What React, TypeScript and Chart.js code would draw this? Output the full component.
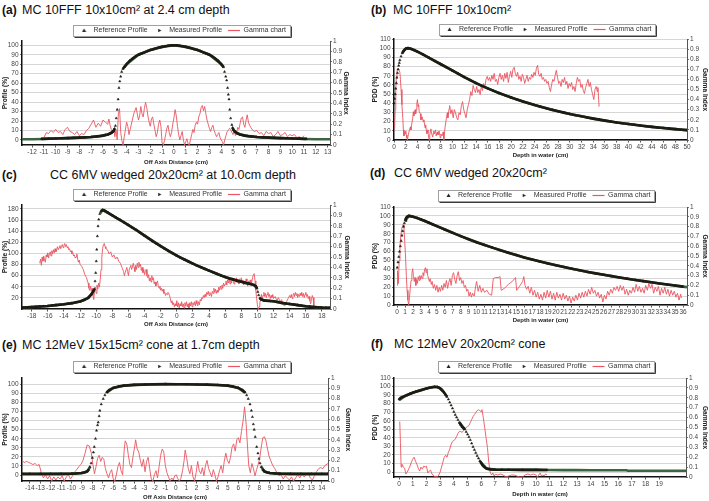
import React, { useEffect, useRef } from 'react';
import { Chart, registerables } from 'chart.js';

Chart.register(...registerables);

type P = [number, number][];

// ---------------- Panel (a) ----------------
const refProfileA: P = [[-11.2,1.2],[-10.6,1.4],[-10,1.6],[-9.5,1.8],[-9,2.0],[-8.5,2.2],[-8,2.5],[-7.5,2.8],[-7,3.2],[-6.5,3.8],[-6.2,4.2],[-6,4.6],[-5.8,5.2],[-5.6,5.8],[-5.45,6.6],[-5.3,7.5],[-5.2,8.5],[-5.1,9.5],[-5.02,12],[-4.95,15],[-4.88,23],[-4.8,32],[-4.72,43],[-4.65,55],[-4.58,62],[-4.5,67],[-4.42,72],[-4.32,75],[-4.2,77],[-4.0,80],[-3.75,83.5],[-3.5,86],[-3.25,88.2],[-3.0,90],[-2.75,91.3],[-2.5,92.5],[-2.25,93.8],[-2.0,95],[-1.75,95.9],[-1.5,96.8],[-1.25,97.6],[-1.0,98.3],[-0.75,99],[-0.5,99.5],[-0.25,99.9],[0,100],[0.25,99.9],[0.5,99.5],[0.75,99],[1.0,98.3],[1.25,97.6],[1.5,96.8],[1.75,95.9],[2.0,95],[2.25,93.8],[2.5,92.5],[2.75,91.3],[3.0,90],[3.25,88.2],[3.5,86],[3.75,83.5],[4.0,80],[4.2,77],[4.28,72],[4.38,67],[4.46,63],[4.54,55],[4.6,48],[4.66,43],[4.72,32],[4.8,23],[4.9,16],[4.96,13],[5.05,10.5],[5.15,9],[5.25,8],[5.4,6.8],[5.6,5.8],[5.8,5.2],[6,4.6],[6.2,4.2],[6.5,3.8],[7,3.2],[7.5,2.8],[8,2.5],[8.5,2.2],[9,2.0],[9.5,1.8],[10,1.6],[10.6,1.4],[11.2,1.2]];
const measProfileA: P = [[-12.9,0.7],[-12,0.8],[-11,1.1],[-10,1.5],[-9,2],[-8,2.5],[-7,3.2],[-6.5,3.8],[-6,4.6],[-5.6,5.8],[-5.3,7.5],[-5.1,9.5],[-4.9,16],[-4.7,43],[-4.5,67],[-4.2,77],[-4,80],[-3,90],[-2,95],[-1,98.3],[0,100],[1,98.3],[2,95],[3,90],[4,80],[4.2,77],[4.45,63],[4.7,32],[4.95,13],[5.1,9.5],[5.3,7.5],[5.6,5.8],[6,4.6],[6.5,3.8],[7,3.2],[8,2.5],[9,2],[10,1.5],[11,1.1],[12,0.8],[13.2,0.7]];
const gammaA: P = [[-11.0,0.07],[-10.8,0.12],[-10.6,0.11],[-10.4,0.14],[-10.2,0.12],[-10.0,0.15],[-9.8,0.12],[-9.6,0.13],[-9.4,0.1],[-9.2,0.15],[-9.0,0.17],[-8.8,0.13],[-8.6,0.12],[-8.4,0.1],[-8.2,0.13],[-8.0,0.09],[-7.8,0.11],[-7.6,0.1],[-7.4,0.14],[-7.2,0.16],[-7.0,0.2],[-6.8,0.24],[-6.6,0.17],[-6.4,0.21],[-6.2,0.18],[-6.0,0.24],[-5.8,0.22],[-5.6,0.2],[-5.5,0.25],[-5.4,0.19],[-5.3,0.15],[-5.2,0.12],[-5.1,0.16],[-5.0,0.08],[-4.9,0.15],[-4.8,0.05],[-4.7,0.3],[-4.6,0.35],[-4.5,0.12],[-4.4,0.04],[-4.3,0.0],[-4.2,0.08],[-4.0,0.22],[-3.9,0.18],[-3.8,0.1],[-3.6,0.2],[-3.4,0.3],[-3.2,0.36],[-3.0,0.24],[-2.9,0.28],[-2.8,0.37],[-2.7,0.3],[-2.6,0.27],[-2.5,0.35],[-2.4,0.41],[-2.3,0.36],[-2.2,0.28],[-2.1,0.22],[-2.0,0.18],[-1.9,0.25],[-1.8,0.27],[-1.7,0.2],[-1.6,0.14],[-1.5,0.08],[-1.4,0.12],[-1.3,0.2],[-1.2,0.24],[-1.1,0.18],[-1.0,0.02],[-0.9,0.0],[-0.8,0.04],[-0.7,0.1],[-0.6,0.16],[-0.5,0.19],[-0.4,0.12],[-0.3,0.08],[-0.2,0.12],[-0.1,0.2],[0.0,0.26],[0.1,0.34],[0.2,0.28],[0.3,0.18],[0.4,0.1],[0.5,0.05],[0.6,0.09],[0.7,0.13],[0.8,0.05],[0.9,0.0],[1.0,0.03],[1.1,0.06],[1.2,0.01],[1.3,0.0],[1.4,0.05],[1.5,0.1],[1.6,0.15],[1.7,0.12],[1.8,0.19],[1.9,0.22],[2.0,0.2],[2.1,0.27],[2.2,0.3],[2.3,0.36],[2.4,0.38],[2.5,0.33],[2.6,0.37],[2.7,0.3],[2.8,0.24],[2.9,0.2],[3.0,0.16],[3.1,0.13],[3.2,0.17],[3.3,0.19],[3.4,0.14],[3.5,0.11],[3.6,0.08],[3.7,0.1],[3.8,0.12],[3.9,0.07],[4.0,0.05],[4.1,0.03],[4.2,0.0],[4.3,0.05],[4.4,0.09],[4.5,0.13],[4.6,0.14],[4.7,0.16],[4.8,0.15],[4.9,0.12],[5.0,0.1],[5.1,0.14],[5.2,0.09],[5.3,0.12],[5.4,0.17],[5.5,0.15],[5.6,0.21],[5.7,0.26],[5.8,0.27],[5.9,0.2],[6.0,0.17],[6.1,0.24],[6.2,0.29],[6.3,0.22],[6.4,0.19],[6.5,0.17],[6.6,0.15],[6.8,0.13],[7.0,0.14],[7.2,0.11],[7.4,0.12],[7.6,0.09],[7.8,0.13],[8.0,0.11],[8.2,0.12],[8.4,0.08],[8.6,0.1],[8.8,0.13],[9.0,0.09],[9.2,0.1],[9.4,0.12],[9.6,0.08],[9.8,0.1],[10.0,0.09],[10.2,0.1],[10.4,0.07],[10.6,0.08],[10.8,0.06],[11.0,0.09]];

// ---------------- Panel (b) ----------------
const refPddB: P = [[0,40],[0.1,45],[0.2,50],[0.3,56],[0.4,62],[0.5,68],[0.6,73],[0.7,77],[0.8,81],[0.9,84],[1.0,87],[1.2,91],[1.4,94.5],[1.6,96.8],[1.8,98.5],[2.0,99.5],[2.3,100],[2.6,99.8],[3,99],[3.5,97.8],[4,96.3],[5,93],[6,89.5],[7,86],[8,82.5],[9,79],[10,75.5],[11,72],[12,68.5],[13,65.3],[14,62],[15,59],[16,56.2],[17,53.5],[18,51],[19,48.6],[20,46.3],[21,44],[22,42],[23,40],[24,38],[25,36.2],[26,34.5],[27,32.8],[28,31.3],[29,29.8],[30,28.4],[31,27],[32,25.8],[33,24.5],[34,23.3],[35,22.2],[36,21.1],[37,20.1],[38,19.1],[39,18.2],[40,17.4],[41,16.6],[42,15.8],[43,15],[44,14.3],[45,13.6],[46,13],[47,12.4],[48,11.8],[49,11.2],[50,10.7]];
const measPddB: P = [[0,40],[0.5,68],[1,87],[1.5,95.5],[2,99.5],[2.5,100],[3,99],[4,96.3],[5,93],[6,89.5],[8,82.5],[10,75.5],[12,68.5],[14,62],[16,56.2],[18,51],[20,46.3],[22,42],[24,38],[26,34.5],[28,31.3],[30,28.4],[32,25.8],[34,23.3],[36,21.1],[38,19.1],[40,17.4],[42,15.8],[44,14.3],[46,13],[48,11.8],[50,10.7]];
const gammaB: P = [[0.1,0.1],[0.2,0.3],[0.3,0.5],[0.4,0.62],[0.5,0.68],[0.6,0.7],[0.8,0.7],[1.0,0.67],[1.1,0.6],[1.2,0.5],[1.35,0.35],[1.5,0.22],[1.6,0.1],[1.7,0.04],[1.8,0.08],[1.9,0.06],[2.0,0.09],[2.1,0.05],[2.2,0.02],[2.3,0.0],[2.4,0.04],[2.6,0.09],[2.8,0.13],[2.9,0.1],[3.0,0.15],[3.2,0.22],[3.3,0.28],[3.4,0.24],[3.6,0.3],[3.7,0.26],[3.8,0.3],[3.9,0.36],[4.0,0.4],[4.1,0.33],[4.2,0.35],[4.3,0.28],[4.5,0.26],[4.6,0.2],[4.8,0.23],[5.0,0.18],[5.1,0.2],[5.3,0.12],[5.4,0.15],[5.6,0.06],[5.7,0.1],[5.8,0.07],[6.0,0.0],[6.1,0.05],[6.3,0.11],[6.4,0.07],[6.6,0.03],[6.8,0.09],[6.9,0.06],[7.1,0.1],[7.2,0.04],[7.4,0.08],[7.5,0.05],[7.7,0.09],[7.9,0.02],[8.0,0.06],[8.2,0.04],[8.4,0.08],[8.5,0.0],[8.7,0.12],[8.9,0.2],[9.1,0.27],[9.2,0.22],[9.4,0.31],[9.5,0.34],[9.7,0.26],[9.9,0.3],[10.1,0.22],[10.3,0.3],[10.5,0.27],[10.7,0.22],[10.9,0.2],[11.1,0.27],[11.3,0.25],[11.5,0.34],[11.7,0.38],[11.9,0.3],[12.1,0.26],[12.3,0.22],[12.5,0.3],[12.7,0.35],[12.9,0.4],[13.1,0.48],[13.3,0.44],[13.5,0.54],[13.7,0.5],[13.9,0.47],[14.1,0.53],[14.3,0.47],[14.5,0.5],[14.7,0.45],[14.9,0.53],[15.1,0.49],[15.3,0.56],[15.5,0.52],[15.7,0.6],[15.9,0.63],[16.1,0.59],[16.3,0.62],[16.5,0.58],[16.7,0.64],[16.9,0.6],[17.1,0.66],[17.3,0.58],[17.5,0.6],[17.7,0.55],[17.9,0.62],[18.1,0.66],[18.3,0.6],[18.5,0.64],[18.7,0.58],[18.9,0.66],[19.1,0.61],[19.3,0.67],[19.5,0.57],[19.7,0.63],[19.9,0.68],[20.1,0.62],[20.3,0.7],[20.5,0.72],[20.7,0.66],[20.9,0.63],[21.1,0.67],[21.3,0.6],[21.5,0.63],[21.7,0.58],[21.9,0.65],[22.1,0.62],[22.3,0.56],[22.5,0.6],[22.7,0.64],[22.9,0.58],[23.1,0.62],[23.3,0.6],[23.5,0.65],[23.7,0.62],[23.9,0.67],[24.1,0.64],[24.3,0.71],[24.5,0.74],[24.7,0.65],[24.9,0.63],[25.1,0.66],[25.3,0.6],[25.5,0.62],[25.7,0.58],[25.9,0.6],[26.1,0.56],[26.3,0.58],[26.5,0.52],[26.7,0.48],[26.9,0.55],[27.1,0.6],[27.3,0.58],[27.5,0.64],[27.7,0.69],[27.9,0.62],[28.1,0.56],[28.3,0.58],[28.5,0.53],[28.7,0.6],[28.9,0.57],[29.1,0.62],[29.3,0.55],[29.5,0.58],[29.7,0.51],[29.9,0.56],[30.1,0.53],[30.3,0.57],[30.5,0.5],[30.7,0.53],[30.9,0.48],[31.1,0.56],[31.3,0.62],[31.5,0.58],[31.7,0.6],[31.9,0.52],[32.1,0.55],[32.3,0.49],[32.5,0.46],[32.7,0.52],[32.9,0.56],[33.1,0.6],[33.3,0.53],[33.5,0.57],[33.7,0.5],[33.9,0.45],[34.1,0.4],[34.3,0.5],[34.5,0.53],[34.7,0.48],[34.8,0.52],[35.0,0.33]];

// ---------------- Panel (c) ----------------
const refProfileC: P = [[-19.2,2.5],[-18.5,3],[-18,3.5],[-17.5,4],[-17,4.5],[-16.5,5],[-16,5.5],[-15.5,6.2],[-15,7],[-14.5,7.7],[-14,8.5],[-13.5,9.5],[-13,10.5],[-12.5,12],[-12,13.5],[-11.5,16],[-11,20],[-10.8,23],[-10.6,26.5],[-10.45,30],[-10.32,33],[-10.22,36],[-10.14,50],[-10.06,65],[-9.99,86],[-9.93,107],[-9.85,131],[-9.77,149],[-9.68,161],[-9.55,171],[-9.4,176],[-9.2,178],[-9,177.5],[-8.5,173],[-8,168.5],[-7.5,164],[-7,160],[-6.5,155.5],[-6,151],[-5.5,146.5],[-5,142],[-4.5,137],[-4,132],[-3.5,127],[-3,122],[-2.5,117.5],[-2,113],[-1.5,108.5],[-1,104],[-0.5,100],[0,96],[0.5,92],[1,88.5],[1.5,85],[2,81.5],[2.5,78],[3,75],[3.5,72],[4,69],[4.5,66],[5,63],[5.5,60],[6,57.5],[6.5,55],[7,53],[7.5,51],[8,49],[8.5,47],[9,45.5],[9.3,44.5],[9.6,43],[9.8,41],[9.95,37],[10.05,31],[10.15,25],[10.3,19.5],[10.5,17],[10.8,15.5],[11,15],[11.5,14.5],[12,14],[12.5,12.5],[13,11],[13.5,10],[14,9],[14.5,8],[15,7],[15.5,6],[16,5],[16.5,4.3],[17,3.6],[17.5,3],[18,2.5],[18.5,2.2],[19,2]];
const measProfileC: P = [[-19.2,2.5],[-18,3.5],[-17,4.5],[-16,5.5],[-15,7],[-14,8.5],[-13,10.5],[-12,13.5],[-11,20],[-10.5,28],[-10.22,36],[-9.9,100],[-9.5,172],[-9.2,178],[-8,168.5],[-6,151],[-4,132],[-2,113],[0,96],[2,81.5],[4,69],[6,57.5],[8,49],[9.6,43],[9.95,37],[10.3,19.5],[10.8,15.5],[12,14],[13,11],[14,9],[15,7],[16,5],[17,3.6],[18,2.5],[19,2]];
const gammaC: P = [[-17,0.44],[-16.9,0.48],[-16.8,0.42],[-16.7,0.5],[-16.6,0.46],[-16.5,0.51],[-16.4,0.47],[-16.3,0.45],[-16.2,0.52],[-16.1,0.5],[-16,0.54],[-15.9,0.49],[-15.8,0.53],[-15.7,0.55],[-15.6,0.51],[-15.5,0.56],[-15.4,0.53],[-15.3,0.57],[-15.2,0.54],[-15.1,0.58],[-15,0.55],[-14.9,0.57],[-14.8,0.6],[-14.7,0.57],[-14.6,0.59],[-14.5,0.61],[-14.4,0.58],[-14.3,0.6],[-14.2,0.62],[-14.1,0.59],[-14,0.61],[-13.9,0.63],[-13.8,0.6],[-13.7,0.62],[-13.6,0.59],[-13.5,0.6],[-13.4,0.57],[-13.3,0.58],[-13.2,0.55],[-13.1,0.56],[-13,0.53],[-12.9,0.54],[-12.8,0.51],[-12.7,0.52],[-12.6,0.49],[-12.5,0.5],[-12.4,0.53],[-12.3,0.48],[-12.2,0.45],[-12.1,0.47],[-12,0.43],[-11.8,0.41],[-11.6,0.38],[-11.4,0.33],[-11.2,0.3],[-11,0.25],[-10.9,0.2],[-10.8,0.18],[-10.7,0.22],[-10.6,0.17],[-10.5,0.2],[-10.4,0.13],[-10.3,0.09],[-10.2,0.18],[-10.1,0.21],[-10,0.15],[-9.9,0.23],[-9.8,0.19],[-9.7,0.25],[-9.6,0.21],[-9.5,0.28],[-9.4,0.38],[-9.3,0.5],[-9.2,0.58],[-9.1,0.62],[-9,0.63],[-8.9,0.6],[-8.8,0.58],[-8.6,0.57],[-8.4,0.53],[-8.2,0.55],[-8,0.5],[-7.8,0.52],[-7.6,0.48],[-7.4,0.5],[-7.2,0.46],[-7,0.44],[-6.8,0.4],[-6.6,0.36],[-6.5,0.32],[-6.4,0.35],[-6.2,0.4],[-6.1,0.36],[-6,0.32],[-5.9,0.38],[-5.7,0.42],[-5.6,0.38],[-5.4,0.44],[-5.3,0.4],[-5.2,0.36],[-5.1,0.42],[-5,0.38],[-4.9,0.44],[-4.8,0.4],[-4.7,0.45],[-4.6,0.41],[-4.5,0.43],[-4.4,0.37],[-4.3,0.4],[-4.2,0.35],[-4.1,0.38],[-4,0.33],[-3.9,0.36],[-3.8,0.38],[-3.7,0.32],[-3.6,0.3],[-3.5,0.33],[-3.4,0.27],[-3.3,0.3],[-3.2,0.26],[-3.1,0.32],[-3,0.28],[-2.9,0.3],[-2.8,0.24],[-2.7,0.26],[-2.6,0.22],[-2.5,0.25],[-2.4,0.27],[-2.3,0.22],[-2.2,0.2],[-2.1,0.22],[-2,0.18],[-1.9,0.2],[-1.8,0.17],[-1.7,0.19],[-1.6,0.15],[-1.5,0.16],[-1.4,0.13],[-1.3,0.15],[-1.2,0.14],[-1.1,0.16],[-1,0.15],[-0.9,0.13],[-0.8,0.1],[-0.7,0.06],[-0.6,0.08],[-0.5,0.04],[-0.4,0.06],[-0.3,0.02],[-0.2,0.05],[-0.1,0.03],[0,0.08],[0.1,0.02],[0.2,0.06],[0.3,0.01],[0.4,0.05],[0.5,0.03],[0.6,0.07],[0.7,0.02],[0.8,0.05],[0.9,0.01],[1,0.06],[1.1,0.03],[1.2,0.07],[1.3,0.02],[1.4,0.05],[1.5,0.01],[1.6,0.06],[1.7,0.03],[1.8,0.07],[1.9,0.02],[2,0.06],[2.1,0.04],[2.2,0.07],[2.3,0.03],[2.4,0.08],[2.5,0.05],[2.6,0.03],[2.7,0.07],[2.8,0.04],[2.9,0.09],[3,0.08],[3.1,0.11],[3.2,0.1],[3.3,0.13],[3.4,0.11],[3.5,0.14],[3.6,0.12],[3.7,0.16],[3.8,0.14],[3.9,0.17],[4,0.13],[4.1,0.16],[4.2,0.15],[4.3,0.12],[4.4,0.17],[4.5,0.15],[4.6,0.2],[4.7,0.16],[4.8,0.19],[4.9,0.15],[5,0.18],[5.1,0.16],[5.2,0.21],[5.3,0.18],[5.4,0.22],[5.5,0.19],[5.6,0.23],[5.7,0.2],[5.8,0.25],[5.9,0.22],[6,0.24],[6.1,0.27],[6.2,0.23],[6.3,0.28],[6.4,0.25],[6.5,0.29],[6.6,0.24],[6.7,0.28],[6.8,0.25],[6.9,0.3],[7,0.27],[7.1,0.24],[7.2,0.29],[7.3,0.26],[7.4,0.3],[7.5,0.25],[7.6,0.28],[7.7,0.24],[7.8,0.29],[7.9,0.26],[8,0.3],[8.1,0.25],[8.2,0.28],[8.3,0.23],[8.4,0.27],[8.5,0.24],[8.6,0.29],[8.7,0.25],[8.8,0.22],[8.9,0.27],[9,0.24],[9.1,0.28],[9.2,0.23],[9.3,0.26],[9.4,0.3],[9.5,0.33],[9.6,0.34],[9.7,0.27],[9.8,0.18],[9.9,0.1],[10,0.04],[10.1,0.0],[10.2,0.02],[10.3,0.06],[10.4,0.1],[10.5,0.14],[10.6,0.1],[10.7,0.13],[10.8,0.16],[10.9,0.12],[11,0.15],[11.1,0.11],[11.2,0.14],[11.3,0.16],[11.4,0.12],[11.5,0.14],[11.6,0.1],[11.7,0.13],[11.8,0.11],[11.9,0.14],[12,0.1],[12.2,0.12],[12.4,0.08],[12.6,0.11],[12.8,0.07],[13,0.09],[13.2,0.04],[13.4,0.03],[13.6,0.07],[13.8,0.1],[14,0.13],[14.1,0.11],[14.2,0.14],[14.3,0.1],[14.4,0.13],[14.5,0.15],[14.6,0.12],[14.7,0.16],[14.8,0.13],[14.9,0.15],[15,0.11],[15.1,0.14],[15.2,0.12],[15.3,0.15],[15.4,0.13],[15.5,0.16],[15.6,0.12],[15.7,0.15],[15.8,0.11],[15.9,0.14],[16,0.16],[16.1,0.12],[16.2,0.14],[16.3,0.1],[16.4,0.12],[16.5,0.08],[16.6,0.05],[16.7,0.09],[16.8,0.13],[16.9,0.11],[17,0.02]];

// ---------------- Panel (d) ----------------
const refPddD: P = [[0,42],[0.1,48],[0.2,54],[0.3,60],[0.4,66],[0.5,72],[0.6,78],[0.7,83],[0.8,88],[0.9,92],[1.0,95],[1.1,97.2],[1.2,98.6],[1.35,99.6],[1.5,100],[1.75,99.7],[2,99],[2.5,97.8],[3,96],[3.5,94.2],[4,92.3],[4.5,90.4],[5,88.5],[6,84.7],[7,81],[8,77.3],[9,73.8],[10,70.5],[11,67.4],[12,64.4],[13,61.5],[14,58.7],[15,56],[16,53.4],[17,51],[18,48.7],[19,46.5],[20,44.5],[21,42.6],[22,40.7],[23,38.9],[24,37.1],[25,35.5],[26,33.9],[27,32.4],[28,30.9],[29,29.5],[30,28.1],[31,26.8],[32,25.5],[33,24.2],[34,23],[35,21.8],[36,20.6]];
const measPddD: P = [[0,42],[0.5,72],[1,95],[1.5,100],[2,99],[3,96],[4,92.3],[5,88.5],[6,84.7],[8,77.3],[10,70.5],[12,64.4],[14,58.7],[16,53.4],[18,48.7],[20,44.5],[22,40.7],[24,37.1],[26,33.9],[28,30.9],[30,28.1],[32,25.5],[34,23],[36,20.6],[36.5,20]];
const gammaD: P = [[0,0.2],[0.05,0.35],[0.15,0.22],[0.25,0.45],[0.35,0.6],[0.45,0.7],[0.55,0.77],[0.65,0.8],[0.75,0.82],[0.85,0.79],[0.95,0.65],[1.05,0.5],[1.15,0.3],[1.25,0.15],[1.35,0.05],[1.45,0.0],[1.55,0.08],[1.65,0.17],[1.75,0.25],[1.85,0.32],[1.95,0.37],[2.05,0.3],[2.15,0.24],[2.25,0.28],[2.35,0.2],[2.45,0.26],[2.55,0.22],[2.65,0.29],[2.75,0.25],[2.85,0.3],[2.95,0.26],[3.05,0.3],[3.15,0.27],[3.25,0.33],[3.35,0.3],[3.45,0.36],[3.55,0.38],[3.65,0.33],[3.75,0.37],[3.85,0.3],[3.95,0.27],[4.05,0.24],[4.15,0.27],[4.3,0.21],[4.4,0.24],[4.55,0.17],[4.7,0.21],[4.85,0.15],[5.0,0.2],[5.15,0.13],[5.3,0.18],[5.45,0.14],[5.6,0.2],[5.75,0.15],[5.9,0.22],[6.05,0.18],[6.2,0.25],[6.35,0.17],[6.5,0.23],[6.65,0.27],[6.8,0.2],[6.95,0.3],[7.1,0.33],[7.25,0.26],[7.4,0.22],[7.55,0.3],[7.7,0.34],[7.85,0.25],[8.0,0.28],[8.15,0.22],[8.3,0.25],[8.45,0.18],[8.6,0.2],[8.75,0.14],[8.9,0.16],[9.05,0.09],[9.2,0.13],[9.35,0.08],[9.5,0.12],[9.7,0.09],[9.9,0.2],[10.0,0.24],[10.2,0.14],[10.4,0.2],[10.6,0.13],[10.8,0.17],[11.0,0.13],[11.3,0.15],[11.6,0.11],[11.9,0.1],[12.1,0.27],[12.4,0.28],[12.7,0.28],[12.95,0.29],[13.1,0.15],[13.5,0.17],[14,0.21],[14.5,0.24],[14.9,0.28],[15.05,0.15],[15.4,0.19],[15.8,0.24],[15.95,0.29],[16.1,0.2],[16.3,0.16],[16.5,0.19],[16.7,0.12],[16.9,0.18],[17.1,0.1],[17.3,0.15],[17.5,0.08],[17.7,0.13],[17.9,0.06],[18.1,0.11],[18.3,0.05],[18.5,0.13],[18.7,0.07],[18.9,0.15],[19.1,0.08],[19.3,0.14],[19.5,0.06],[19.7,0.12],[19.9,0.05],[20.1,0.13],[20.3,0.07],[20.5,0.11],[20.7,0.05],[20.9,0.12],[21.1,0.06],[21.3,0.1],[21.5,0.04],[21.7,0.09],[21.9,0.02],[22.1,0.08],[22.3,0.04],[22.5,0.1],[22.7,0.05],[22.9,0.12],[23.1,0.07],[23.3,0.13],[23.5,0.08],[23.7,0.14],[23.9,0.09],[24.1,0.16],[24.3,0.11],[24.5,0.18],[24.7,0.12],[24.9,0.15],[25.1,0.09],[25.3,0.13],[25.5,0.07],[25.7,0.11],[25.9,0.03],[26.1,0.1],[26.3,0.06],[26.5,0.14],[26.7,0.1],[26.9,0.16],[27.1,0.12],[27.3,0.18],[27.5,0.15],[27.7,0.19],[27.9,0.14],[28.1,0.2],[28.3,0.15],[28.5,0.19],[28.7,0.11],[28.9,0.16],[29.1,0.1],[29.3,0.15],[29.5,0.12],[29.7,0.18],[29.9,0.13],[30.1,0.21],[30.3,0.14],[30.5,0.19],[30.7,0.13],[30.9,0.17],[31.1,0.12],[31.3,0.2],[31.5,0.15],[31.7,0.22],[31.9,0.17],[32.1,0.21],[32.3,0.12],[32.5,0.18],[32.7,0.14],[32.9,0.19],[33.1,0.1],[33.3,0.17],[33.5,0.12],[33.7,0.18],[33.9,0.11],[34.1,0.16],[34.3,0.09],[34.5,0.15],[34.7,0.1],[34.9,0.14],[35.1,0.08],[35.3,0.12],[35.5,0.05],[35.7,0.11],[35.8,0.07]];

// ---------------- Panel (e) ----------------
const refProfileE: P = [[-14.7,1.2],[-14,1.2],[-13,1.2],[-12,1.2],[-11,1.3],[-10,1.5],[-9.5,1.8],[-9,2.3],[-8.7,3],[-8.5,4],[-8.35,6],[-8.24,9],[-8.12,13],[-8.0,19],[-7.9,25],[-7.82,31],[-7.7,40],[-7.6,49],[-7.5,55],[-7.44,58],[-7.35,65],[-7.28,71],[-7.15,78],[-6.96,84],[-6.8,88],[-6.64,91],[-6.4,93.5],[-6,96],[-5.5,97.5],[-5,98.5],[-4,99.3],[-3,99.7],[-2,100],[-1,100.2],[0,100],[1,100],[2,99.8],[3,99.6],[4,99.2],[5,98.5],[5.5,97.5],[6,96],[6.4,93.5],[6.65,91],[6.8,88],[6.95,84],[7.12,78],[7.25,71],[7.35,64],[7.44,56],[7.52,50],[7.62,42],[7.76,31],[7.88,24],[7.98,18],[8.08,13],[8.2,9],[8.35,6],[8.5,4],[8.7,3],[9,2.3],[9.5,1.8],[10,1.5],[11,1.3],[12,1.2],[13,1.2],[14,1.2],[14.6,1.2]];
const measProfileE: P = [[-14.75,1.1],[-13,1.1],[-11,1.2],[-10,1.4],[-9,2.2],[-8.5,4],[-8.2,9],[-7.9,25],[-7.6,49],[-7.3,70],[-7,83],[-6.6,91],[-6,96],[-5,98.4],[-4,99.3],[-2,99.9],[0,100],[2,99.8],[4,99.2],[5,98.4],[6,96],[6.6,91],[7,82],[7.3,66],[7.6,44],[7.9,23],[8.2,9],[8.5,4],[9,2.2],[10,1.4],[11,1.2],[13,1.1],[14.6,1.1]];
const gammaE: P = [[-14.7,0.19],[-14.5,0.18],[-14.3,0.19],[-14.1,0.18],[-13.9,0.17],[-13.7,0.16],[-13.5,0.17],[-13.3,0.15],[-13.1,0.16],[-12.9,0.08],[-12.7,0.03],[-12.5,0.06],[-12.3,0.02],[-12.1,0.05],[-11.9,0.0],[-11.7,0.04],[-11.5,0.01],[-11.3,0.04],[-11.1,0.02],[-10.9,0.05],[-10.7,0.0],[-10.5,0.04],[-10.3,0.06],[-10.1,0.02],[-9.9,0.05],[-9.7,0.09],[-9.5,0.11],[-9.3,0.14],[-9.1,0.16],[-8.9,0.2],[-8.7,0.27],[-8.5,0.35],[-8.3,0.34],[-8.1,0.27],[-7.95,0.16],[-7.8,0.07],[-7.65,0.14],[-7.5,0.22],[-7.35,0.25],[-7.2,0.19],[-7.05,0.23],[-6.9,0.21],[-6.75,0.12],[-6.6,0.07],[-6.45,0.03],[-6.3,0.08],[-6.15,0.11],[-6.0,0.02],[-5.85,0.0],[-5.7,0.06],[-5.55,0.14],[-5.4,0.18],[-5.25,0.1],[-5.1,0.06],[-4.95,0.3],[-4.85,0.39],[-4.7,0.36],[-4.55,0.25],[-4.4,0.16],[-4.25,0.13],[-4.1,0.24],[-3.95,0.33],[-3.85,0.4],[-3.7,0.31],[-3.55,0.28],[-3.4,0.2],[-3.25,0.14],[-3.1,0.21],[-2.95,0.09],[-2.8,0.19],[-2.65,0.23],[-2.5,0.12],[-2.35,0.02],[-2.2,0.0],[-2.05,0.06],[-1.9,0.1],[-1.75,0.03],[-1.6,0.14],[-1.45,0.25],[-1.3,0.31],[-1.15,0.28],[-1.0,0.15],[-0.85,0.08],[-0.7,0.04],[-0.55,0.0],[-0.4,0.03],[-0.25,0.01],[-0.1,0.05],[0.05,0.06],[0.2,0.02],[0.35,0.0],[0.5,0.03],[0.65,0.1],[0.8,0.2],[0.9,0.3],[1.05,0.22],[1.2,0.12],[1.35,0.07],[1.5,0.15],[1.65,0.04],[1.8,0.0],[1.95,0.08],[2.1,0.19],[2.25,0.1],[2.4,0.07],[2.55,0.13],[2.7,0.05],[2.85,0.15],[3.0,0.2],[3.15,0.12],[3.3,0.08],[3.45,0.04],[3.6,0.11],[3.75,0.06],[3.9,0.0],[4.05,0.04],[4.2,0.1],[4.35,0.15],[4.5,0.08],[4.65,0.19],[4.8,0.27],[4.95,0.2],[5.1,0.17],[5.25,0.23],[5.4,0.33],[5.55,0.36],[5.7,0.29],[5.85,0.4],[6.0,0.42],[6.15,0.37],[6.3,0.48],[6.45,0.58],[6.6,0.72],[6.75,0.55],[6.9,0.3],[7.0,0.15],[7.15,0.08],[7.3,0.17],[7.45,0.12],[7.6,0.05],[7.75,0.11],[7.9,0.16],[8.05,0.22],[8.2,0.33],[8.35,0.42],[8.5,0.43],[8.65,0.39],[8.8,0.31],[8.95,0.24],[9.1,0.2],[9.3,0.15],[9.5,0.12],[9.7,0.08],[9.9,0.05],[10.1,0.06],[10.3,0.02],[10.5,0.05],[10.7,0.03],[10.9,0.01],[11.1,0.04],[11.3,0.0],[11.5,0.03],[11.7,0.06],[11.9,0.03],[12.1,0.07],[12.3,0.04],[12.5,0.06],[12.7,0.08],[12.9,0.03],[13.1,0.01],[13.3,0.05],[13.5,0.09],[13.7,0.12],[13.9,0.13],[14.1,0.12],[14.3,0.15],[14.6,0.17]];

// ---------------- Panel (f) ----------------
const refPddF: P = [[0,85],[0.1,86.5],[0.2,87.5],[0.4,88.8],[0.6,90],[0.8,91.5],[1,92.7],[1.2,93.8],[1.4,94.8],[1.6,95.8],[1.8,96.8],[2,97.7],[2.2,98.5],[2.4,99.2],[2.6,99.6],[2.8,99.4],[2.9,98.8],[3.0,97.8],[3.1,96.5],[3.2,94.8],[3.3,92.8],[3.4,90.5],[3.5,88],[3.6,85],[3.7,81.5],[3.8,78],[3.9,74.5],[4.0,70.5],[4.1,67],[4.2,64],[4.3,61],[4.4,58],[4.5,55.5],[4.6,53],[4.7,51.5],[4.8,50],[4.9,47],[5.0,44],[5.1,41],[5.2,37.5],[5.3,33.5],[5.4,29.5],[5.5,26],[5.6,22.5],[5.7,19],[5.8,16],[5.9,13],[6.0,10.5],[6.1,8],[6.2,6.3],[6.3,5],[6.4,4],[6.5,3.4],[6.7,3],[7,2.8],[7.5,2.7],[8,2.6],[9,2.5],[10,2.5],[10.8,2.4]];
const measPddF: P = [[0,84],[0.5,89.5],[1,92.7],[1.5,95.3],[2,97.7],[2.5,99.4],[2.8,99.4],[3,97.8],[3.3,92.8],[3.6,85],[4,70.5],[4.4,58],[4.8,50],[5.2,37.5],[5.6,22.5],[6,10.5],[6.4,4],[7,2.8],[8,2.6],[9,2.5],[10,2.5],[11,2.3],[12,2.2],[13,2.2],[14,2.1],[15,2.1],[16,2.0],[16.6,2.0],[16.7,1.5],[18,1.5],[19,1.4],[20,1.4],[20.95,1.4]];
const gammaF: P = [[0.05,0.56],[0.1,0.35],[0.15,0.1],[0.2,0.13],[0.25,0.12],[0.3,0.1],[0.4,0.09],[0.5,0.03],[0.6,0.05],[0.7,0.08],[0.8,0.11],[0.9,0.15],[1.0,0.18],[1.1,0.2],[1.2,0.16],[1.3,0.13],[1.4,0.09],[1.5,0.06],[1.6,0.1],[1.7,0.08],[1.8,0.11],[1.9,0.1],[2.0,0.11],[2.1,0.04],[2.2,0.06],[2.3,0.07],[2.4,0.03],[2.5,0.02],[2.6,0.0],[2.7,0.01],[2.8,0.0],[2.9,0.02],[3.0,0.05],[3.1,0.1],[3.2,0.15],[3.3,0.2],[3.4,0.22],[3.5,0.2],[3.6,0.25],[3.7,0.28],[3.8,0.33],[3.9,0.36],[4.0,0.37],[4.1,0.38],[4.2,0.41],[4.3,0.44],[4.4,0.46],[4.5,0.46],[4.6,0.45],[4.7,0.47],[4.8,0.48],[4.9,0.5],[5.0,0.51],[5.1,0.52],[5.2,0.55],[5.3,0.58],[5.4,0.61],[5.5,0.63],[5.6,0.65],[5.7,0.67],[5.8,0.68],[5.9,0.67],[6.0,0.66],[6.05,0.68],[6.15,0.6],[6.25,0.5],[6.35,0.4],[6.45,0.3],[6.55,0.15],[6.65,0.05],[6.75,0.02],[6.85,0.04],[6.95,0.01],[7.05,0.03],[7.2,0.02],[7.4,0.03],[7.6,0.02],[7.8,0.0],[8.0,0.01],[8.2,0.02],[8.4,0.02],[8.6,0.01],[8.8,0.0],[9.0,0.0],[9.2,0.02],[9.4,0.03],[9.6,0.02],[9.8,0.03],[10.0,0.02],[10.1,0.0],[10.2,0.02],[10.3,0.04],[10.4,0.01],[10.5,0.02],[10.6,0.01],[10.7,0.03],[10.8,0.02]];

// ---------------- Tick values ----------------
const xTicksA = [-12,-11,-10,-9,-8,-7,-6,-5,-4,-3,-2,-1,0,1,2,3,4,5,6,7,8,9,10,11,12,13];
const xTicksB = [0,2,4,6,8,10,12,14,16,18,20,22,24,26,28,30,32,34,36,38,40,42,44,46,48,50];
const xTicksC = [-18,-16,-14,-12,-10,-8,-6,-4,-2,0,2,4,6,8,10,12,14,16,18];
const xTicksD = [0,1,2,3,4,5,6,7,8,9,10,11,12,13,14,15,16,17,18,19,20,21,22,23,24,25,26,27,28,29,30,31,32,33,34,35,36];
const xTicksE = [-14,-13,-12,-11,-10,-9,-8,-7,-6,-5,-4,-3,-2,-1,0,1,2,3,4,5,6,7,8,9,10,11,12,13,14];
const xTicksF = [0,1,2,3,4,5,6,7,8,9,10,11,12,13,14,15,16,17,18,19];
const yTicks100 = [0,10,20,30,40,50,60,70,80,90,100];
const yTicks110 = [0,10,20,30,40,50,60,70,80,90,100,110];
const yTicksC = [20,40,60,80,100,120,140,160,180];
const gammaTicks = [0,0.1,0.2,0.3,0.4,0.5,0.6,0.7,0.8,0.9,1];

const NARROW = "'Liberation Sans Narrow', 'Liberation Sans', Arial, sans-serif";
const REG = "'Liberation Sans', Arial, sans-serif";

const panels: any[] = [
  { label: '(a)', title: 'MC 10FFF 10x10cm² at 2.4 cm depth', labelLeft: 2, titleLeft: 22, titleTop: 2.5,
    left: 0, top: 21, width: 354, height: 145, yW: 22, y1W: 24, xH: 21, legendH: 20, legendDx: 5, yTitlePad: 1, y1TitlePad: 4,
    xMin: -12.85, xMax: 13.2, yMin: -5.3, yMax: 104.5, xTicks: xTicksA, yTicks: yTicks100,
    xTitle: 'Off Axis Distance (cm)', yTitle: 'Profile (%)', ref: refProfileA, meas: measProfileA, gamma: gammaA },
  { label: '(b)', title: 'MC 10FFF 10x10cm²', labelLeft: 371, titleLeft: 393, titleTop: 3.3,
    left: 354, top: 20, width: 355, height: 139, yW: 40, y1W: 22, xH: 19, legendH: 19, legendDx: 16, yTitlePad: 17, y1TitlePad: 0,
    xMin: 0, xMax: 50, yMin: 0, yMax: 110, xTicks: xTicksB, yTicks: yTicks110,
    xTitle: 'Depth in water (cm)', yTitle: 'PDD (%)', ref: refPddB, meas: measPddB, gamma: gammaB },
  { label: '(c)', title: 'CC 6MV wedged 20x20cm² at 10.0cm depth', labelLeft: 2, titleLeft: 50, titleTop: 167.5,
    left: 0, top: 185, width: 354, height: 143, yW: 22, y1W: 24, xH: 19, legendH: 20, legendDx: 5, yTitlePad: 1, y1TitlePad: 3,
    xMin: -19.2, xMax: 19, yMin: 0, yMax: 187, xTicks: xTicksC, yTicks: yTicksC,
    xTitle: 'Off Axis Distance (cm)', yTitle: 'Profile (%)', ref: refProfileC, meas: measProfileC, gamma: gammaC },
  { label: '(d)', title: 'CC 6MV wedged 20x20cm²', labelLeft: 370, titleLeft: 394, titleTop: 166,
    left: 354, top: 186, width: 355, height: 138, yW: 40, y1W: 22, xH: 19, legendH: 21, legendDx: 15, yTitlePad: 17.5, y1TitlePad: 0,
    xMin: -0.4, xMax: 36.5, yMin: 0, yMax: 110, xTicks: xTicksD, yTicks: yTicks110,
    xTitle: 'Depth in water (cm)', yTitle: 'PDD (%)', ref: refPddD, meas: measPddD, gamma: gammaD },
  { label: '(e)', title: 'MC 12MeV 15x15cm² cone at 1.7cm depth', labelLeft: 2, titleLeft: 22, titleTop: 337.5,
    left: 0, top: 357, width: 354, height: 144, yW: 22, y1W: 26, xH: 20, legendH: 21, legendDx: 5, yTitlePad: 1, y1TitlePad: 2.5,
    xMin: -14.75, xMax: 14.6, yMin: -6.6, yMax: 106.9, xTicks: xTicksE, yTicks: yTicks100,
    xTitle: 'Off Axis Distance (cm)', yTitle: 'Profile (%)', ref: refProfileE, meas: measProfileE, gamma: gammaE },
  { label: '(f)', title: 'MC 12MeV 20x20cm² cone', labelLeft: 371, titleLeft: 394, titleTop: 337,
    left: 354, top: 357, width: 355, height: 141, yW: 40, y1W: 23, xH: 21, legendH: 21, legendDx: 15, yTitlePad: 17, y1TitlePad: 0,
    xMin: -0.37, xMax: 20.95, yMin: -5.85, yMax: 110, xTicks: xTicksF, yTicks: yTicks110,
    xTitle: 'Depth in water (cm)', yTitle: 'PDD (%)', ref: refPddF, meas: measPddF, gamma: gammaF },
];

const toXY = (p: P) => p.map(([x, y]) => ({ x, y }));

// small legend marker images
function markerCanvas(kind: string): HTMLCanvasElement {
  const c = document.createElement('canvas');
  c.width = 5; c.height = 5;
  const g = c.getContext('2d')!;
  g.fillStyle = '#222';
  g.beginPath();
  if (kind === 'up') { g.moveTo(2.5, 0.5); g.lineTo(4.5, 4); g.lineTo(0.5, 4); }
  else { g.moveTo(1, 0.8); g.lineTo(4.2, 2.5); g.lineTo(1, 4.2); }
  g.closePath();
  g.fill();
  return c;
}

function buildConfig(s: any): any {
  const seg = {
    borderColor: (c: any) => {
      const dy = Math.abs(c.p1.y - c.p0.y);
      const dx = Math.abs(c.p1.x - c.p0.x);
      return dy > 2.5 && dy > 1.5 * dx ? 'rgba(0,0,0,0)' : undefined;
    },
  };
  const upMarker = markerCanvas('up');
  const rightMarker = markerCanvas('right');
  const tickFont = { family: NARROW, size: 6.5 };
  const framePlugin = {
    id: 'frame' + s.label,
    afterInit(chart: any) {
      const lg = chart.legend;
      if (lg) {
        const f = lg.fit.bind(lg);
        lg.fit = () => { f(); lg.height = s.legendH; };
      }
    },
    afterUpdate(chart: any) {
      const lg = chart.legend;
      if (!lg || !lg.legendHitBoxes) return;
      lg.left += s.legendDx; lg.right += s.legendDx;
      lg.legendHitBoxes.forEach((h: any) => { h.left += s.legendDx; });
    },
    afterDraw(chart: any) {
      const lg = chart.legend;
      if (!lg || !lg.legendHitBoxes || !lg.legendHitBoxes.length) return;
      let l = Infinity, r = -Infinity, t = Infinity, b = -Infinity;
      lg.legendHitBoxes.forEach((h: any) => {
        l = Math.min(l, h.left); r = Math.max(r, h.left + h.width);
        t = Math.min(t, h.top); b = Math.max(b, h.top + h.height);
      });
      const ctx = chart.ctx;
      ctx.save();
      const x0 = Math.round(l - 5) + 0.5, y0 = Math.round(t - 2) + 0.5;
      const x1 = Math.round(r + 4) + 0.5, y1 = Math.round(b + 2) + 0.5;
      ctx.lineWidth = 1;
      ctx.strokeStyle = '#a0a0a0';
      ctx.strokeRect(x0, y0, x1 - x0, y1 - y0);
      ctx.strokeStyle = '#3a3a3a';
      ctx.beginPath();
      ctx.moveTo(x1 + 1, y0 + 1); ctx.lineTo(x1 + 1, y1 + 1); ctx.lineTo(x0 + 1, y1 + 1);
      ctx.stroke();
      ctx.restore();
    },
  };
  return {
    type: 'line',
    data: {
      datasets: [
        { label: 'Reference Profile', data: toXY(s.ref), yAxisID: 'y', borderColor: '#1d1d14', backgroundColor: '#1d1d14',
          borderWidth: 2.6, pointStyle: 'triangle', pointRadius: 1.3, pointBorderWidth: 0.5,
          pointBackgroundColor: '#1d1d14', pointBorderColor: '#1d1d14', order: 1, segment: seg },
        { label: 'Measured Profile', data: toXY(s.meas), yAxisID: 'y', borderColor: '#3b6440', backgroundColor: '#3b6440',
          borderWidth: 2.6, pointStyle: 'triangle', pointRadius: 0, order: 2, segment: seg },
        { label: 'Gamma chart', data: toXY(s.gamma), yAxisID: 'y1', borderColor: '#ea5560', backgroundColor: '#ea5560',
          borderWidth: 0.9, pointRadius: 0, pointStyle: 'line', order: 3 },
      ],
    },
    options: {
      responsive: false,
      animation: false,
      events: [],
      layout: { padding: 0, autoPadding: false },
      plugins: {
        tooltip: { enabled: false },
        legend: {
          display: true,
          position: 'top',
          labels: {
            usePointStyle: true, pointStyleWidth: 12, boxHeight: 3, padding: 6, color: '#333',
            font: { family: NARROW, size: 7 },
            generateLabels: (chart: any) => {
              const items = (Chart.defaults as any).plugins.legend.labels.generateLabels(chart);
              return items.map((it: any, i: number) => {
                if (i === 0) return { ...it, pointStyle: upMarker, rotation: 0 };
                if (i === 1) return { ...it, pointStyle: rightMarker, rotation: 0 };
                return { ...it, lineWidth: 1.2 };
              });
            },
          },
        },
      },
      scales: {
        x: {
          type: 'linear', min: s.xMin, max: s.xMax,
          afterBuildTicks: (a: any) => { a.ticks = s.xTicks.map((v: number) => ({ value: v })); },
          ticks: { autoSkip: false, maxRotation: 0, minRotation: 0, font: tickFont, color: '#444', padding: 1, callback: (v: any) => String(v) },
          grid: { drawOnChartArea: false, drawTicks: true, tickLength: 2.5, color: '#555' },
          border: { display: true, color: '#111', width: 1.5 },
          title: { display: true, text: s.xTitle, color: '#222', font: { family: NARROW, size: 6, weight: 'bold' }, padding: { top: 0, bottom: 0 } },
          afterFit: (sc: any) => { sc.height = s.xH; sc.paddingLeft = 0; sc.paddingRight = 0; },
        },
        y: {
          type: 'linear', position: 'left', min: s.yMin, max: s.yMax,
          afterBuildTicks: (a: any) => { a.ticks = s.yTicks.map((v: number) => ({ value: v })); },
          ticks: { autoSkip: false, font: tickFont, color: '#444', padding: 1.5, callback: (v: any) => String(v) },
          grid: { color: '#d6d6d6', lineWidth: 1, drawTicks: true, tickLength: 2, tickColor: '#777' },
          border: { display: true, color: '#111', width: 1.5 },
          title: { display: true, text: s.yTitle, color: '#222', font: { family: REG, size: 6.6, weight: 'bold' }, padding: { top: s.yTitlePad, bottom: 0 } },
          afterFit: (sc: any) => { sc.width = s.yW; sc.paddingTop = 0; sc.paddingBottom = 0; },
        },
        y1: {
          type: 'linear', position: 'right', min: 0, max: 1,
          afterBuildTicks: (a: any) => { a.ticks = gammaTicks.map((v: number) => ({ value: v })); },
          ticks: { autoSkip: false, font: tickFont, color: '#444', padding: 1, callback: (v: any) => (v === 0 || v === 1 ? String(v) : Number(v).toFixed(1)) },
          grid: { drawOnChartArea: false, drawTicks: true, tickLength: 2, color: '#777' },
          border: { display: true, color: '#555', width: 1 },
          title: { display: true, text: 'Gamma Index', color: '#222', font: { family: REG, size: 6.6, weight: 'bold' }, padding: { top: s.y1TitlePad, bottom: 0 } },
          afterFit: (sc: any) => { sc.width = s.y1W; sc.paddingTop = 0; sc.paddingBottom = 0; },
        },
      },
    },
    plugins: [framePlugin],
  };
}

function Panel({ s }: { s: any }) {
  const ref = useRef<HTMLCanvasElement | null>(null);
  useEffect(() => {
    if (!ref.current) return;
    const chart = new Chart(ref.current, buildConfig(s));
    return () => chart.destroy();
  }, [s]);
  return (
    <>
      <div style={{ position: 'absolute', left: s.labelLeft, top: s.titleTop, fontSize: 12, lineHeight: '14px', fontWeight: 'bold', whiteSpace: 'nowrap' }}>{s.label}</div>
      <div style={{ position: 'absolute', left: s.titleLeft, top: s.titleTop, fontSize: 12.5, lineHeight: '14px', whiteSpace: 'nowrap' }}>{s.title}</div>
      <canvas ref={ref} width={s.width} height={s.height}
        style={{ position: 'absolute', left: s.left, top: s.top, width: s.width, height: s.height }} />
    </>
  );
}

export default function App() {
  return (
    <div style={{ position: 'absolute', left: 0, top: 0, width: 709, height: 501, overflow: 'hidden', background: '#fff',
      fontFamily: REG, color: '#111' }}>
      {panels.map((s) => <Panel key={s.label} s={s} />)}
    </div>
  );
}
